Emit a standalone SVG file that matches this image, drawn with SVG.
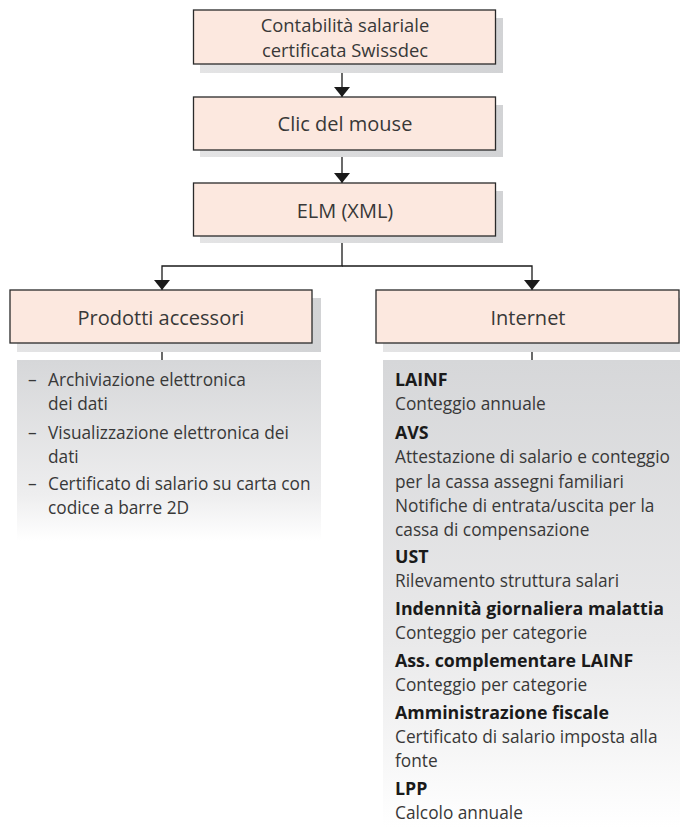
<svg xmlns="http://www.w3.org/2000/svg" width="680" height="827" viewBox="0 0 680 827">
<defs>
  <linearGradient id="shadow" x1="0" y1="0" x2="1" y2="0">
    <stop offset="0" stop-color="#e4e4e5"/>
    <stop offset="1" stop-color="#d2d3d5"/>
  </linearGradient>
  <linearGradient id="panelL" x1="0" y1="0" x2="0" y2="1">
    <stop offset="0" stop-color="#d6d7d9"/>
    <stop offset="0.75" stop-color="#eeeeef"/>
    <stop offset="1" stop-color="#ffffff"/>
  </linearGradient>
  <linearGradient id="panelR" x1="0" y1="0" x2="0" y2="1">
    <stop offset="0" stop-color="#d6d7d9"/>
    <stop offset="0.6" stop-color="#e9e9ea"/>
    <stop offset="1" stop-color="#ffffff"/>
  </linearGradient>
  <marker id="arr" viewBox="0 0 10 16" refX="10" refY="8" markerWidth="10" markerHeight="16" markerUnits="userSpaceOnUse" orient="auto">
    <path d="M0,0 L10,8 L0,16 z" fill="#1a1a1a"/>
  </marker>
</defs>
<style>
  .box{fill:#fce8df;stroke:#2a2a2a;stroke-width:1.3}
  .sh{fill:url(#shadow)}
  .lbl{font-family:"Open Sans","Noto Sans","Liberation Sans",sans-serif;font-size:20px;fill:#383838;text-anchor:middle}
  .two{font-size:18.4px}
  .t{font-family:"Open Sans","Noto Sans","Liberation Sans",sans-serif;font-size:17.3px;fill:#383838}
  .b{font-weight:bold;fill:#1a1a1a;font-size:17.8px}
  .ln{stroke:#1a1a1a;stroke-width:1.3;fill:none}
</style>

<g id="connectors">
  <line class="ln" x1="342" y1="64" x2="342" y2="97" marker-end="url(#arr)"/>
  <line class="ln" x1="342" y1="150" x2="342" y2="183" marker-end="url(#arr)"/>
  <polyline class="ln" points="342,236 342,266 162,266 162,290" marker-end="url(#arr)"/>
  <polyline class="ln" points="342,266 532,266 532,290" marker-end="url(#arr)"/>
  <line class="ln" x1="162" y1="343" x2="162" y2="360"/>
  <line class="ln" x1="532" y1="343" x2="532" y2="360"/>
</g>

<g id="n1">
  <rect class="sh" x="200" y="18" width="303" height="55"/>
  <rect class="box" x="193.5" y="10" width="302" height="54"/>
  <text class="lbl two" x="345" y="31.5">Contabilità salariale</text>
  <text class="lbl two" x="345" y="56.8">certificata Swissdec</text>
</g>

<g id="n2">
  <rect class="sh" x="200" y="105" width="303" height="52"/>
  <rect class="box" x="193.5" y="97" width="302" height="53"/>
  <text class="lbl" x="345" y="131">Clic del mouse</text>
</g>

<g id="n3">
  <rect class="sh" x="200" y="191" width="303" height="52"/>
  <rect class="box" x="193.5" y="183" width="302" height="53"/>
  <text class="lbl" x="345" y="218">ELM (XML)</text>
</g>

<g id="n4">
  <rect class="sh" x="17" y="298" width="304" height="54"/>
  <rect class="box" x="10" y="290" width="302" height="53"/>
  <text class="lbl" x="161" y="325">Prodotti accessori</text>
</g>

<g id="n5">
  <rect class="sh" x="383" y="298" width="297" height="54"/>
  <rect class="box" x="376" y="290" width="303" height="53"/>
  <text class="lbl" x="528" y="325">Internet</text>
</g>

<g id="p1">
  <rect x="17" y="360" width="304" height="181" fill="url(#panelL)"/>
  <text class="t" x="28" y="386">–</text>
  <text class="t" x="48" y="386">Archiviazione elettronica</text>
  <text class="t" x="48" y="410">dei dati</text>
  <text class="t" x="28" y="439">–</text>
  <text class="t" x="48" y="439">Visualizzazione elettronica dei</text>
  <text class="t" x="48" y="463">dati</text>
  <text class="t" x="28" y="490">–</text>
  <text class="t" x="48" y="490">Certificato di salario su carta con</text>
  <text class="t" x="48" y="514">codice a barre 2D</text>
</g>

<g id="p2">
  <rect x="383" y="360" width="297" height="467" fill="url(#panelR)"/>
  <text class="t b" x="395" y="386">LAINF</text>
  <text class="t" x="395" y="410">Conteggio annuale</text>
  <text class="t b" x="395" y="439">AVS</text>
  <text class="t" x="395" y="463">Attestazione di salario e conteggio</text>
  <text class="t" x="395" y="488">per la cassa assegni familiari</text>
  <text class="t" x="395" y="512">Notifiche di entrata/uscita per la</text>
  <text class="t" x="395" y="536">cassa di compensazione</text>
  <text class="t b" x="395" y="563">UST</text>
  <text class="t" x="395" y="587">Rilevamento struttura salari</text>
  <text class="t b" x="395" y="615">Indennità giornaliera malattia</text>
  <text class="t" x="395" y="639">Conteggio per categorie</text>
  <text class="t b" x="395" y="667">Ass. complementare LAINF</text>
  <text class="t" x="395" y="691">Conteggio per categorie</text>
  <text class="t b" x="395" y="719">Amministrazione fiscale</text>
  <text class="t" x="395" y="743">Certificato di salario imposta alla</text>
  <text class="t" x="395" y="767">fonte</text>
  <text class="t b" x="395" y="795">LPP</text>
  <text class="t" x="395" y="819">Calcolo annuale</text>
</g>
</svg>
